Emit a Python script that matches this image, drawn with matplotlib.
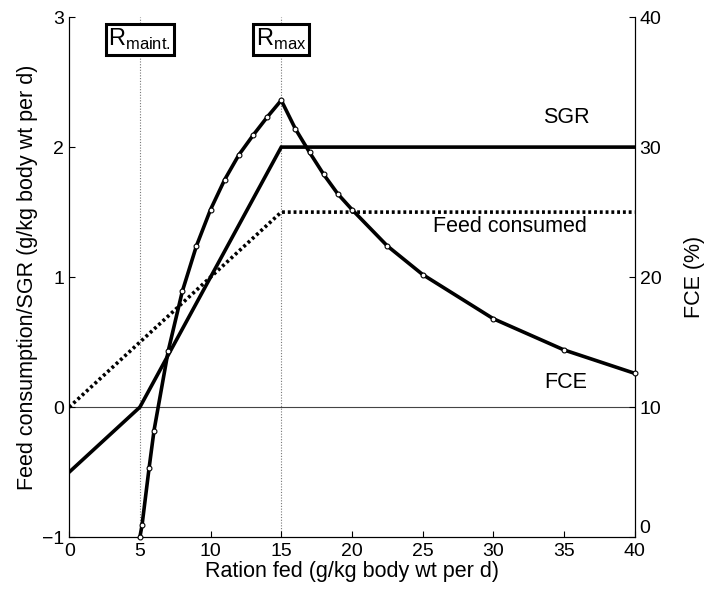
import matplotlib
matplotlib.use("Agg")
import matplotlib.pyplot as plt

plt.rcParams['font.family'] = ['Liberation Sans', 'DejaVu Sans']

# Data
ration = [0, 5, 15, 40]
sgr = [-0.5, 0.0, 2.0, 2.0]
feed_x = [0, 15, 40]
feed_consumed = [0.0, 1.5, 1.5]
fce_x = [5, 5.15, 5.65, 6, 7, 8, 9, 10, 11, 12, 13, 14, 15, 16, 17, 18, 19, 20, 22.5, 25, 30, 35, 40]
fce = [0.0, 0.9, 5.3, 8.2, 14.3, 18.9, 22.4, 25.2, 27.5, 29.4, 30.9, 32.3, 33.6,
       31.4, 29.6, 27.9, 26.4, 25.2, 22.4, 20.2, 16.8, 14.4, 12.6]
xticks = [0, 5, 10, 15, 20, 25, 30, 35, 40]
yticks = [-1, 0, 1, 2, 3]
fce_ticks = [0, 10, 20, 30, 40]
r_maint, r_max = 5, 15

fig = plt.figure(figsize=(7.06, 5.89), dpi=100)
ax = fig.add_axes([0.098, 0.088, 0.801, 0.883])
ax2 = ax.twinx()

ax.set_xlim(0, 40)
ax.set_ylim(-1, 3)
ax2.set_ylim(0, 40)

# reference lines
ax.axhline(0, color='#444444', lw=0.8, zorder=1)
for xv in (r_maint, r_max):
    ax.axvline(xv, color='#777777', lw=0.8, ls=(0, (1, 1.5)), zorder=1)

ax.plot(ration, sgr, color='black', lw=2.6, solid_joinstyle='miter', zorder=3)
ax.plot(feed_x, feed_consumed, color='black', lw=2.6, ls=(0, (0.8, 0.8)), zorder=3)
ax2.plot(fce_x, fce, color='black', lw=2.6, marker='o', ms=3.5, mfc='white',
         mec='black', mew=0.8, zorder=3, clip_on=False)

fs = 15.5
tfs = 14
ax.text(35.2, 2.23, 'SGR', fontsize=fs, ha='center', va='center')
ax.text(31.2, 1.39, 'Feed consumed', fontsize=fs, ha='center', va='center')
ax.text(35.1, 0.19, 'FCE', fontsize=fs, ha='center', va='center')

box = dict(boxstyle='square,pad=0.12', fc='white', ec='black', lw=2.2)
ax.text(r_maint, 2.83, r'R$_{\mathregular{maint.}}$', fontsize=17, ha='center', va='center', bbox=box, zorder=5)
ax.text(r_max, 2.83, r'R$_{\mathregular{max}}$', fontsize=17, ha='center', va='center', bbox=box, zorder=5)

ax.set_xticks(xticks)
ax.set_yticks(yticks)
ax.set_yticklabels(['\u22121', '0', '1', '2', '3'])
ax2.set_yticks(fce_ticks)
for a in (ax, ax2):
    a.tick_params(direction='in', labelsize=tfs, length=4, width=0.8)
    a.spines['top'].set_visible(False)
    for s in a.spines.values():
        s.set_linewidth(0.8)
ax.tick_params(axis='x', pad=4)
# lift the lowest FCE label slightly, as in the reference
lbls = ax2.get_yticklabels()
lbls[0].set_verticalalignment('bottom')

ax.set_xlabel('Ration fed (g/kg body wt per d)', fontsize=fs, labelpad=1)
ax.set_ylabel('Feed consumption/SGR (g/kg body wt per d)', fontsize=fs, labelpad=3)
ax2.set_ylabel('FCE (%)', fontsize=fs, labelpad=16)

fig.savefig('out.png', dpi=100)
